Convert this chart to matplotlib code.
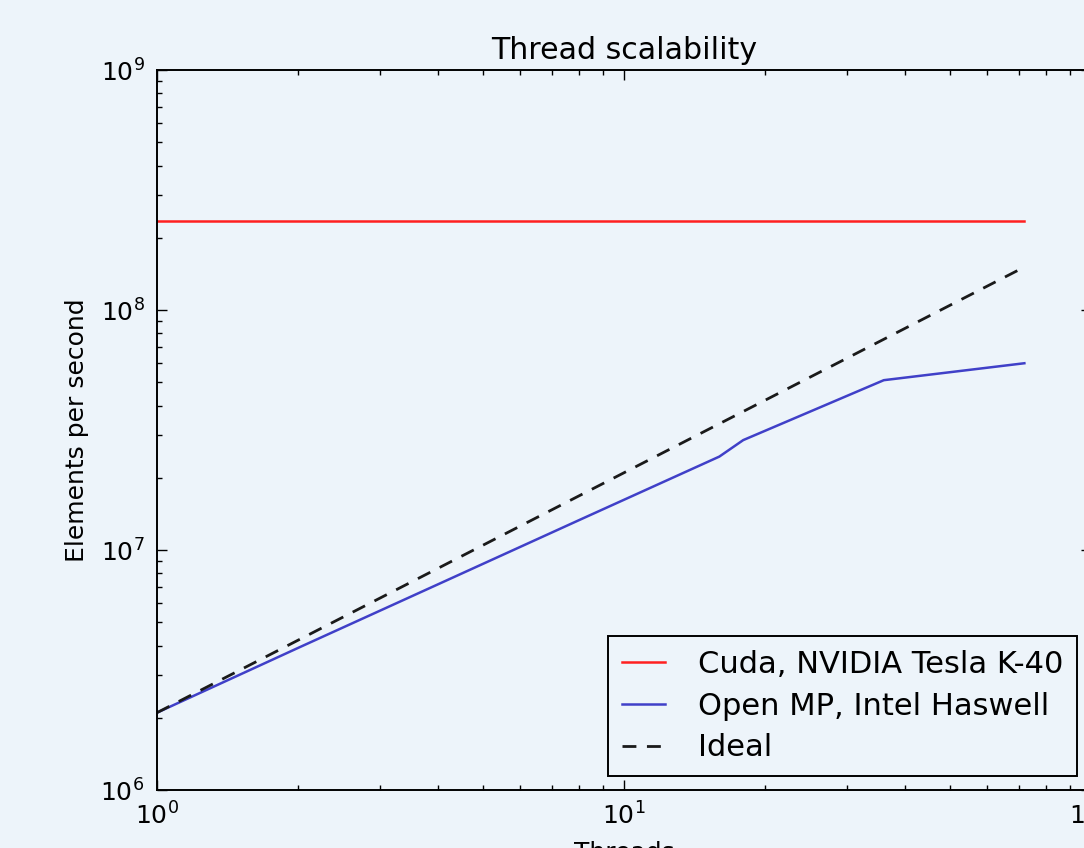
import matplotlib
matplotlib.use('Agg')
import matplotlib.pyplot as plt

# thread counts and throughput (elements per second)
cuda_threads = [1, 72]
cuda_rate = [2.35e8, 2.35e8]

omp_threads = [1, 2, 4, 8, 16, 18, 36, 72]
omp_rate = [2.1e6, 3.9e6, 7.2e6, 1.33e7, 2.45e7, 2.87e7, 5.1e7, 6.0e7]

ideal_threads = [1, 72]
ideal_rate = [2.1e6, 1.51e8]

bg = '#edf4fa'

plt.rcParams['font.family'] = 'DejaVu Sans'
plt.rcParams['mathtext.default'] = 'regular'

fig = plt.figure(figsize=(10.84, 8.48), dpi=100, facecolor=bg)
ax = fig.add_axes([157 / 1084, 58 / 848, 934 / 1084, 720 / 848], facecolor=bg)

ax.plot(cuda_threads, cuda_rate, color='#ff2020', lw=1.8, label='Cuda, NVIDIA Tesla K-40')
ax.plot(omp_threads, omp_rate, color='#4040c8', lw=1.8, label='Open MP, Intel Haswell')
ax.plot(ideal_threads, ideal_rate, color='#1a1a1a', lw=2.0, ls=(0, (5, 3.8)), label='Ideal')

ax.set_xscale('log')
ax.set_yscale('log')
ax.set_xlim(1, 100)
ax.set_ylim(1e6, 1e9)

ax.set_title('Thread scalability', fontsize=21.6, pad=8)
ax.set_xlabel('Threads', fontsize=18, labelpad=8)
ax.set_ylabel('Elements per second', fontsize=18, labelpad=8)

ax.tick_params(which='both', direction='in', top=True, right=True, labelsize=18, pad=9)
ax.tick_params(which='major', length=7, width=1)
ax.tick_params(which='minor', length=3.5, width=1)
for s in ax.spines.values():
    s.set_linewidth(1.4)

leg = ax.legend(loc='lower right', fontsize=22, fancybox=False, framealpha=1,
                edgecolor='black', facecolor=bg, handlelength=1.4, handletextpad=1.1,
                borderpad=0.45, labelspacing=0.42, borderaxespad=0.45)
leg.get_frame().set_linewidth(1.4)

fig.savefig('out.png', dpi=100, facecolor=bg)
